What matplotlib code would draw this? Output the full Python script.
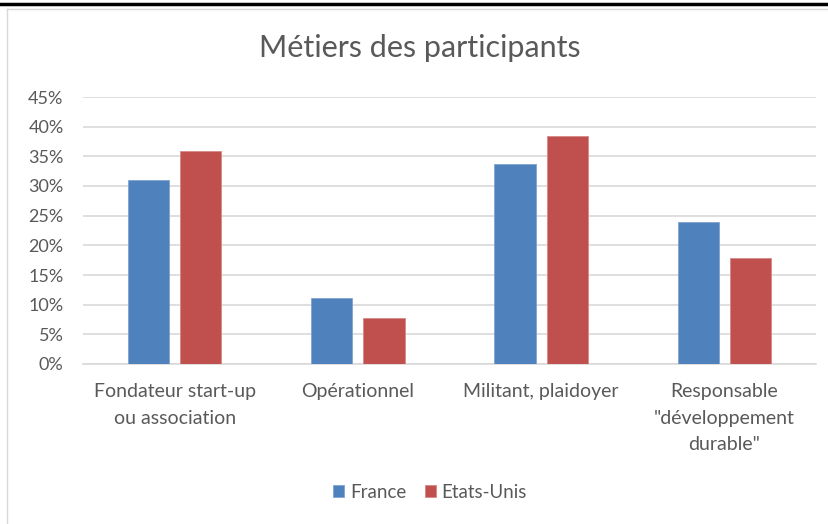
import numpy as np
import matplotlib
matplotlib.use("Agg")
import matplotlib.pyplot as plt
from matplotlib.lines import Line2D

plt.rcParams['font.family'] = ['Lato', 'DejaVu Sans']

categories = ["Fondateur start-up\nou association", "Opérationnel",
              "Militant, plaidoyer", "Responsable\n\"développement\ndurable\""]
france = [0.31, 0.112, 0.337, 0.239]
etats_unis = [0.359, 0.077, 0.384, 0.179]
series_names = ["France", "Etats-Unis"]
yticks = [0, 0.05, 0.10, 0.15, 0.20, 0.25, 0.30, 0.35, 0.40, 0.45]

blue = "#4F81BD"
red = "#C0504D"
grey_txt = "#595959"

fig = plt.figure(figsize=(8.29, 5.24), dpi=100)
ax = fig.add_axes([83 / 829, 160 / 524, 733 / 829, 267 / 524])

x = np.arange(len(categories))
w = 0.224
off = 0.1425
ax.bar(x - off, france, w, color=blue, edgecolor="#7FA3D0", linewidth=0.6,
       label=series_names[0], zorder=3)
ax.bar(x + off, etats_unis, w, color=red, edgecolor="#D68886", linewidth=0.6,
       label=series_names[1], zorder=3)

ax.set_xlim(-0.5, len(categories) - 0.5)
ax.set_ylim(0, 0.45)
ax.set_yticks(yticks)
ax.set_yticklabels([f"{int(round(v * 100))}%" for v in yticks])
ax.yaxis.grid(True, color="#D9D9D9", linewidth=1.2, zorder=0)
ax.set_axisbelow(True)
for s in ["top", "right", "left"]:
    ax.spines[s].set_visible(False)
ax.spines["bottom"].set_color("#D9D9D9")
ax.spines["bottom"].set_linewidth(1.2)
ax.tick_params(axis="both", length=0, colors=grey_txt)
ax.tick_params(axis="y", pad=14, labelsize=13)
ax.tick_params(axis="x", pad=14, labelsize=14)
ax.set_xticks(x)
ax.set_xticklabels(categories, linespacing=1.68)

fig.text(420 / 829, 1 - 48 / 524, "Métiers des participants", ha="center",
         va="center", fontsize=22, color=grey_txt)

leg = fig.legend(loc="center", bbox_to_anchor=(430 / 829, 1 - 492 / 524), ncol=2,
                 frameon=False, fontsize=13.5, handlelength=0.6, handleheight=0.6,
                 handletextpad=0.3, columnspacing=1.0)
for t in leg.get_texts():
    t.set_color(grey_txt)

# chart frame
fig.add_artist(Line2D([0, 1], [1 - 4 / 524, 1 - 4 / 524], color="black", linewidth=2.5))
fig.add_artist(Line2D([7 / 829, 7 / 829], [0, 1 - 9 / 524], color="#D9D9D9", linewidth=1))
fig.add_artist(Line2D([7 / 829, 1], [1 - 9 / 524, 1 - 9 / 524], color="#D9D9D9", linewidth=1))

fig.savefig("out.png", dpi=100)
